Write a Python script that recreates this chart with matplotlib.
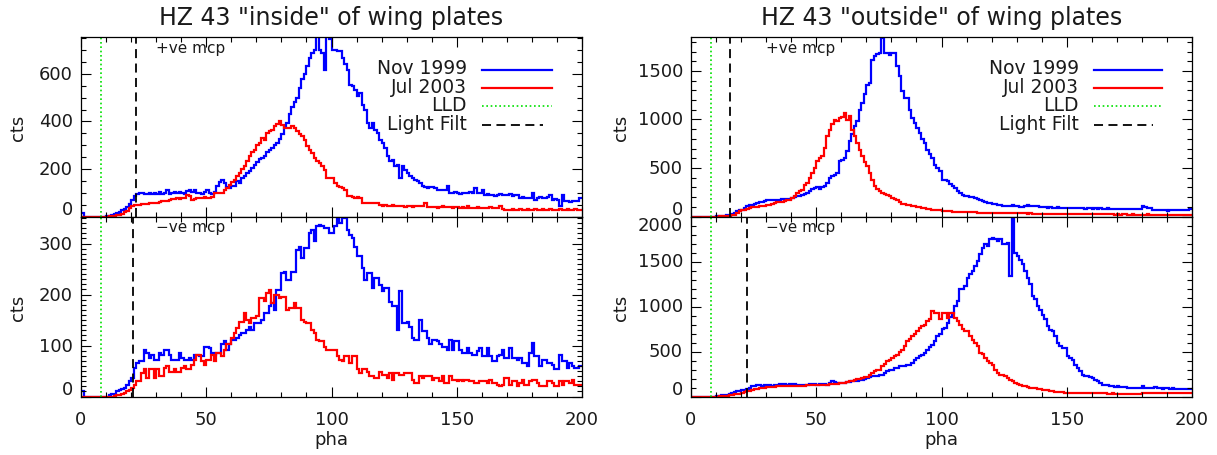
import numpy as np
import matplotlib
matplotlib.use("Agg")
import matplotlib.pyplot as plt
from matplotlib.ticker import MultipleLocator
from matplotlib.transforms import blended_transform_factory, offset_copy

# ---------------- data (counts per 1-pha bin, bins 0..199) ----------------
pha_edges = np.arange(0, 201)

lt_nov = [15, 0, 0, 0, 0, 0, 0, 0, 0, 0,
          1, 3, 6, 10, 14, 20, 28, 33, 40, 52,
          68, 85, 95, 98, 97, 96, 95, 97, 93, 98,
          96, 105, 95, 100, 110, 95, 100, 105, 98, 102,
          100, 95, 108, 110, 105, 112, 100, 98, 95, 105,
          110, 100, 95, 105, 130, 145, 155, 140, 125, 120,
          130, 128, 150, 140, 160, 170, 185, 190, 205, 215,
          230, 240, 245, 255, 270, 280, 290, 300, 310, 325,
          345, 375, 395, 430, 460, 480, 500, 540, 580, 600,
          632, 668, 689, 700, 760, 700, 689, 618, 760, 745,
          702, 702, 695, 695, 668, 640, 618, 555, 548, 534,
          506, 520, 471, 450, 393, 373, 393, 365, 351, 323,
          310, 288, 253, 232, 239, 211, 218, 162, 211, 197,
          183, 169, 160, 155, 148, 141, 127, 125, 120, 122,
          124, 118, 113, 113, 113, 113, 127, 100, 99, 105,
          99, 95, 100, 98, 99, 102, 97, 120, 100, 98,
          113, 92, 95, 90, 92, 88, 92, 95, 90, 92,
          92, 95, 88, 92, 90, 78, 80, 76, 78, 78,
          99, 71, 78, 80, 76, 78, 80, 92, 71, 72,
          70, 43, 92, 64, 66, 62, 64, 66, 64, 78]

lt_jul = [0, 0, 0, 0, 0, 0, 0, 0, 0, 0,
          0, 1, 2, 3, 5, 8, 12, 18, 25, 35,
          43, 47, 50, 50, 52, 53, 54, 55, 56, 57,
          57, 62, 64, 64, 66, 71, 72, 74, 76, 75,
          78, 77, 92, 88, 71, 72, 78, 76, 78, 80,
          78, 76, 80, 99, 98, 100, 99, 113, 120, 134,
          145, 155, 170, 183, 200, 211, 232, 253, 270, 281,
          300, 309, 330, 323, 351, 358, 365, 379, 390, 400,
          386, 373, 373, 373, 379, 373, 358, 345, 337, 323,
          295, 280, 267, 246, 235, 225, 211, 197, 162, 160,
          162, 141, 127, 125, 120, 113, 85, 85, 80, 78,
          82, 78, 57, 57, 55, 57, 56, 55, 57, 50,
          45, 48, 43, 46, 50, 44, 46, 43, 44, 42,
          43, 43, 42, 44, 43, 43, 43, 57, 40, 42,
          38, 41, 36, 40, 43, 38, 39, 42, 37, 40,
          41, 36, 39, 37, 43, 36, 36, 35, 38, 36,
          36, 37, 35, 38, 36, 34, 36, 43, 30, 29,
          29, 28, 30, 29, 27, 31, 29, 28, 30, 29,
          28, 30, 26, 29, 31, 27, 28, 32, 26, 29,
          28, 30, 27, 29, 31, 28, 29, 30, 27, 29]

lb_nov = [10, 0, 0, 0, 0, 0, 0, 0, 0, 0,
          0, 2, 4, 5, 10, 13, 15, 17, 23, 30,
          36, 56, 66, 69, 69, 92, 85, 75, 82, 72,
          72, 85, 82, 92, 92, 82, 72, 72, 72, 85,
          75, 72, 72, 75, 72, 82, 82, 79, 79, 98,
          98, 95, 85, 82, 85, 85, 102, 108, 92, 102,
          111, 111, 115, 121, 124, 124, 131, 137, 131, 144,
          144, 144, 150, 164, 164, 177, 183, 170, 209, 209,
          242, 245, 229, 229, 245, 245, 288, 294, 271, 291,
          291, 321, 327, 304, 334, 336, 335, 330, 330, 321,
          321, 334, 350, 340, 350, 350, 327, 317, 311, 294,
          275, 275, 252, 229, 242, 242, 213, 232, 232, 219,
          206, 213, 213, 186, 177, 177, 131, 206, 144, 144,
          147, 137, 115, 111, 111, 150, 128, 128, 115, 102,
          111, 111, 108, 102, 98, 98, 92, 111, 92, 108,
          108, 92, 85, 85, 95, 85, 82, 82, 89, 95,
          79, 79, 95, 79, 69, 69, 79, 82, 92, 75,
          75, 95, 75, 75, 72, 75, 66, 66, 59, 85,
          105, 79, 79, 59, 72, 72, 66, 66, 62, 53,
          53, 82, 69, 69, 56, 66, 59, 56, 56, 59]

lb_jul = [0, 0, 0, 0, 0, 0, 0, 0, 0, 0,
          0, 0, 0, 1, 2, 3, 4, 6, 10, 13,
          17, 23, 30, 30, 46, 53, 36, 53, 53, 36,
          53, 40, 40, 56, 59, 49, 49, 53, 49, 49,
          56, 59, 53, 53, 62, 72, 82, 82, 69, 62,
          72, 72, 82, 69, 85, 85, 79, 92, 102, 102,
          115, 124, 134, 147, 147, 164, 150, 144, 154, 154,
          157, 193, 193, 187, 203, 208, 183, 200, 200, 193,
          196, 196, 170, 173, 173, 183, 173, 173, 150, 147,
          144, 144, 131, 124, 111, 108, 108, 98, 92, 92,
          92, 92, 79, 72, 69, 79, 79, 66, 79, 79,
          53, 46, 53, 53, 49, 40, 40, 36, 36, 49,
          43, 43, 36, 46, 33, 46, 46, 43, 43, 46,
          46, 46, 33, 26, 26, 40, 36, 40, 40, 40,
          33, 36, 36, 30, 40, 26, 26, 40, 33, 33,
          30, 33, 30, 33, 33, 30, 30, 26, 26, 30,
          30, 30, 26, 33, 26, 26, 23, 20, 23, 36,
          36, 23, 30, 30, 20, 26, 33, 23, 23, 30,
          33, 33, 26, 20, 20, 20, 30, 30, 26, 20,
          20, 30, 23, 30, 30, 26, 33, 23, 23, 23]

rt_nov = [0, 0, 0, 0, 0, 0, 0, 0, 0, 0,
          2, 4, 6, 9, 14, 19, 28, 36, 53, 62,
          70, 88, 105, 115, 122, 132, 140, 146, 150, 156,
          165, 174, 170, 167, 172, 174, 178, 180, 182, 184,
          195, 201, 208, 215, 225, 232, 242, 262, 284, 290,
          301, 284, 300, 311, 345, 397, 415, 431, 448, 569,
          586, 600, 672, 775, 850, 930, 981, 1101, 1170, 1260,
          1359, 1376, 1617, 1651, 1670, 1686, 1840, 1686, 1686, 1668,
          1686, 1686, 1548, 1445, 1290, 1221, 1221, 1101, 1015, 960,
          912, 861, 800, 758, 689, 640, 603, 534, 500, 466,
          380, 380, 362, 330, 311, 294, 259, 240, 225, 215,
          208, 205, 198, 191, 180, 174, 156, 150, 139, 135,
          132, 128, 122, 118, 112, 110, 105, 112, 122, 110,
          105, 100, 98, 105, 122, 110, 105, 108, 112, 100,
          98, 95, 92, 98, 88, 90, 95, 92, 85, 90,
          88, 92, 85, 90, 88, 85, 90, 82, 88, 85,
          82, 85, 80, 88, 82, 80, 85, 78, 82, 80,
          80, 78, 82, 77, 80, 78, 80, 75, 78, 80,
          112, 100, 88, 85, 70, 72, 70, 68, 72, 70,
          53, 70, 72, 68, 70, 70, 68, 72, 70, 78]

rt_jul = [0, 0, 0, 0, 0, 0, 0, 0, 0, 0,
          0, 1, 2, 4, 7, 10, 15, 19, 35, 53,
          62, 70, 80, 88, 94, 98, 102, 105, 108, 112,
          118, 122, 130, 139, 145, 149, 152, 156, 165, 174,
          190, 208, 242, 260, 277, 328, 345, 400, 448, 500,
          569, 600, 620, 706, 827, 895, 950, 998, 981, 1015,
          1030, 1067, 998, 1032, 895, 830, 758, 689, 620, 560,
          517, 448, 380, 311, 280, 259, 242, 235, 225, 208,
          191, 180, 174, 146, 132, 125, 122, 115, 112, 105,
          98, 95, 88, 85, 80, 77, 72, 70, 68, 64,
          60, 55, 53, 52, 50, 50, 48, 48, 45, 46,
          44, 45, 43, 42, 40, 38, 36, 38, 36, 35,
          36, 35, 34, 36, 35, 34, 33, 35, 34, 33,
          32, 33, 31, 32, 30, 31, 30, 29, 30, 28,
          29, 28, 27, 29, 28, 27, 26, 28, 27, 26,
          26, 25, 24, 26, 25, 24, 23, 25, 24, 22,
          23, 22, 24, 22, 21, 23, 22, 21, 22, 20,
          21, 20, 22, 21, 20, 19, 21, 20, 19, 20,
          20, 19, 21, 20, 19, 18, 20, 19, 18, 20,
          19, 18, 20, 19, 18, 20, 19, 18, 19, 20]

rb_nov = [0, 0, 0, 0, 0, 0, 0, 0, 0, 0,
          5, 8, 13, 16, 20, 28, 39, 48, 58, 64,
          69, 76, 84, 98, 113, 122, 132, 128, 121, 126,
          132, 128, 121, 126, 132, 135, 139, 135, 132, 138,
          143, 138, 132, 128, 124, 128, 132, 135, 139, 135,
          132, 138, 143, 138, 132, 150, 169, 160, 150, 150,
          150, 155, 158, 162, 169, 172, 176, 180, 187, 196,
          206, 215, 225, 228, 232, 238, 243, 262, 280, 299,
          299, 318, 318, 336, 336, 336, 354, 354, 373, 410,
          430, 447, 466, 484, 522, 550, 577, 614, 670, 700,
          745, 763, 819, 880, 930, 1004, 1060, 1190, 1190, 1227,
          1320, 1357, 1400, 1449, 1505, 1579, 1650, 1690, 1672, 1746,
          1765, 1746, 1728, 1746, 1690, 1690, 1709, 1338, 2050, 1598,
          1561, 1520, 1468, 1394, 1320, 1250, 1115, 1078, 1004, 960,
          911, 856, 782, 740, 726, 670, 596, 560, 540, 540,
          447, 430, 410, 354, 318, 280, 243, 225, 225, 215,
          206, 187, 170, 150, 132, 132, 125, 121, 115, 110,
          113, 106, 110, 106, 100, 95, 95, 92, 95, 95,
          113, 100, 95, 92, 100, 106, 95, 90, 88, 95,
          92, 88, 90, 84, 84, 88, 84, 80, 84, 88]

rb_jul = [0, 0, 0, 0, 0, 0, 0, 0, 0, 0,
          0, 2, 4, 6, 9, 14, 20, 24, 28, 33,
          39, 48, 58, 66, 76, 82, 87, 91, 95, 98,
          102, 104, 106, 110, 113, 113, 113, 118, 121, 117,
          113, 115, 117, 119, 121, 122, 124, 124, 124, 128,
          132, 132, 132, 132, 132, 138, 143, 143, 143, 147,
          150, 154, 158, 168, 176, 186, 195, 200, 206, 212,
          217, 243, 262, 280, 299, 299, 336, 360, 392, 410,
          430, 447, 466, 495, 522, 559, 614, 640, 670, 689,
          726, 763, 780, 800, 837, 856, 949, 930, 930, 863,
          930, 930, 874, 930, 930, 874, 837, 800, 745, 726,
          726, 670, 633, 600, 559, 485, 470, 429, 392, 370,
          354, 299, 262, 243, 235, 225, 206, 180, 169, 150,
          140, 132, 121, 115, 106, 100, 95, 90, 84, 80,
          76, 72, 68, 60, 58, 55, 52, 46, 46, 44,
          42, 40, 40, 39, 39, 38, 39, 38, 37, 39,
          38, 37, 36, 35, 36, 34, 33, 32, 34, 32,
          33, 32, 31, 32, 33, 31, 32, 33, 32, 31,
          36, 38, 37, 39, 38, 36, 39, 38, 37, 39,
          38, 39, 38, 40, 39, 38, 39, 40, 41, 40]

series_labels = ["Nov 1999", "Jul 2003", "LLD", "Light Filt"]
titles = ['HZ 43 "inside" of wing plates', 'HZ 43 "outside" of wing plates']
panel_tags = ["+ve mcp", "\u2212ve mcp"]
lld_value = 8
light_filt = {"lt": 21.8, "lb": 20.8, "rt": 15.4, "rb": 22.5}
x_ticks = [0, 50, 100, 150, 200]

# ---------------- styling ----------------
TXT = "#1a1a1a"
BLUE = "#0000ff"
RED = "#ff0000"
GREEN = "#00e000"
plt.rcParams["font.family"] = ["DejaVu Sans"]

fig = plt.figure(figsize=(12.17, 4.56), dpi=100)
W, H = 1217.0, 456.0


def make_ax(x0, x1, ytop, ybot):
    return fig.add_axes([x0 / W, 1 - ybot / H, (x1 - x0) / W, (ybot - ytop) / H])


ax_lt = make_ax(81, 582, 38, 217.5)
ax_lb = make_ax(81, 582, 217.5, 397.5)
ax_rt = make_ax(691, 1192, 38, 217.5)
ax_rb = make_ax(691, 1192, 217.5, 397.5)

panels = [
    (ax_lt, lt_nov, lt_jul, 755, 200, 50, light_filt["lt"], True, -0.125),
    (ax_lb, lb_nov, lb_jul, 353, 100, 10, light_filt["lb"], False, -0.125),
    (ax_rt, rt_nov, rt_jul, 1850, 500, 100, light_filt["rt"], True, -0.14),
    (ax_rb, rb_nov, rb_jul, 2000, 500, 100, light_filt["rb"], False, -0.14),
]

for ax, nov, jul, ytop, ymaj, ymin, lf, is_top, cts_x in panels:
    ax.stairs(nov, pha_edges, baseline=None, color=BLUE, lw=1.6)
    ax.stairs(jul, pha_edges, baseline=None, color=RED, lw=1.6)
    ax.axvline(lld_value, color=GREEN, lw=1.2, ls=(0, (1, 1.6)))
    ax.axvline(lf, color="black", lw=1.3, ls=(0, (5, 3)))
    ax.set_xlim(0, 200)
    ax.set_ylim(0, ytop)
    ax.set_xticks(x_ticks)
    ax.xaxis.set_minor_locator(MultipleLocator(10))
    yt = list(np.arange(0, ytop + 1, ymaj))
    ax.set_yticks(yt)
    ax.yaxis.set_minor_locator(MultipleLocator(ymin))
    ax.tick_params(which="both", direction="in", top=True, right=True,
                   colors="black", labelcolor=TXT, labelsize=13, width=0.8)
    ax.tick_params(which="major", length=7.5)
    ax.tick_params(which="minor", length=3.8)
    ax.tick_params(axis="x", pad=10)
    ax.tick_params(axis="y", labelleft=False)
    for sp in ax.spines.values():
        sp.set_linewidth(0.9)
    # y tick labels drawn as text so the end labels can sit inside the panel
    tr = blended_transform_factory(ax.transAxes, ax.transData)
    for v in yt:
        dy = 0.0
        if v == 0:
            dy = 7.0
        elif v == ytop:
            dy = -9.0
        t = offset_copy(tr, fig=fig, x=-8, y=dy, units="dots")
        ax.text(0, v, str(int(v)), transform=t, ha="right", va="center",
                fontsize=13, color=TXT)
    ax.text(cts_x, 0.5, "cts", rotation=90, transform=ax.transAxes,
            ha="center", va="center", fontsize=13, color=TXT)
    tag = panel_tags[0] if is_top else panel_tags[1]
    ax.text(0.15, 0.985, tag, transform=ax.transAxes, ha="left", va="top",
            fontsize=11, color=TXT)
    if is_top:
        ax.tick_params(axis="x", labelbottom=False)
    else:
        ax.set_xticklabels([str(v) for v in x_ticks])
        ax.text(0.5, -0.236, "pha", transform=ax.transAxes, ha="center",
                va="center", fontsize=13, color=TXT)

# titles
ax_lt.text(0.5, 1.0 + 20 / 179.5, titles[0], transform=ax_lt.transAxes,
           ha="center", va="center", fontsize=17, color=TXT)
ax_rt.text(0.5, 1.0 + 20 / 179.5, titles[1], transform=ax_rt.transAxes,
           ha="center", va="center", fontsize=17, color=TXT)

# legends (drawn manually: text on the left, line sample on the right)
row_y = [0.818, 0.716, 0.616, 0.510]
styles = [dict(color=BLUE, lw=1.6, ls="-"),
          dict(color=RED, lw=1.6, ls="-"),
          dict(color=GREEN, lw=1.2, ls=(0, (1, 1.6))),
          dict(color="black", lw=1.3, ls=(0, (5, 3)))]
for ax, tx in ((ax_lt, 0.770), (ax_rt, 0.774)):
    for lab, yy, st in zip(series_labels, row_y, styles):
        ax.text(tx, yy + 0.01, lab, transform=ax.transAxes, ha="right",
                va="center", fontsize=13.5, color=TXT)
        x_end = 0.922 if lab == "Light Filt" else 0.941
        ax.plot([tx + 0.03, x_end], [yy, yy], transform=ax.transAxes, **st)

fig.savefig("out.png", dpi=100)
